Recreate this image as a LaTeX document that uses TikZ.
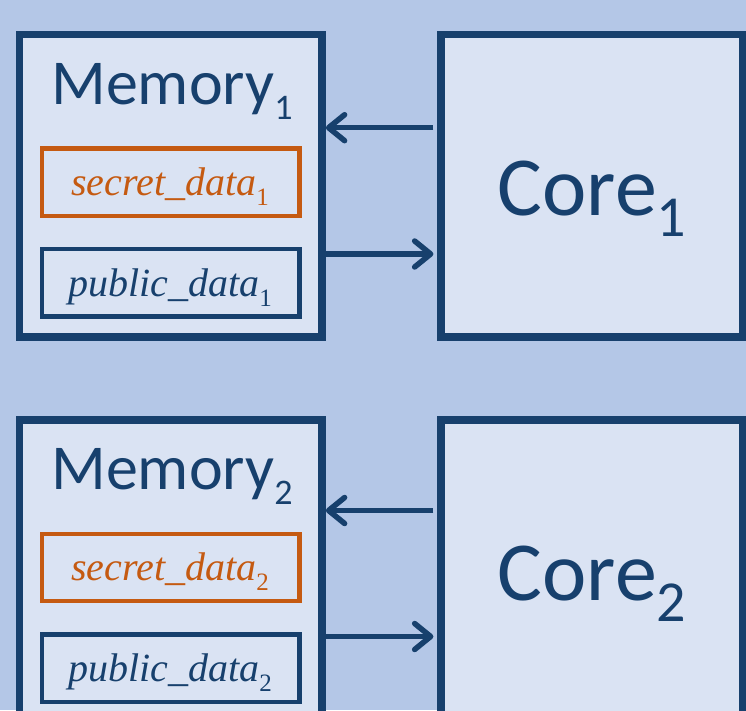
\documentclass[tikz,border=0pt]{standalone}
\usepackage{fontspec}
\setmainfont{Liberation Serif}
\newfontfamily\labelfont{Carlito}
\usetikzlibrary{arrows.meta}
\definecolor{bgblue}{HTML}{B4C7E7}
\definecolor{boxfill}{HTML}{DAE3F3}
\definecolor{darkblue}{HTML}{17406D}
\definecolor{secretorange}{HTML}{C55A11}
\begin{document}
\begin{tikzpicture}[x=1pt,y=-1pt,
  unit/.style={rectangle, draw=darkblue, fill=boxfill, line width=7.7pt,
    minimum width=302.5pt, minimum height=302.2pt, inner sep=0pt},
  slot/.style={rectangle, draw=#1, fill=boxfill, line width=4.4pt,
    minimum width=257.2pt, minimum height=67.4pt, inner sep=0pt},
  label/.style={anchor=base, inner sep=0pt, text=darkblue},
  arr/.style={draw=darkblue, line width=5.5pt,
    -{Straight Barb[length=16pt,width=26pt,round]}}]
\useasboundingbox (0,0) rectangle (746,710);
\fill[bgblue] (0,0) rectangle (746,710);

\foreach \i/\off/\ta/\tb in {1/0/127.7/254, 2/385.5/510.5/636.5} {
  % memory unit with its two data slots
  \node[unit] (mem\i) at (170.75,185.6+\off) {};
  \node[slot=secretorange] (sec\i) at (170.8,182.05+\off) {};
  \node[slot=darkblue] (pub\i) at (170.8,282.85+\off) {};
  \node[label] (memlabel\i) at (172,104+\off)
    {\labelfont\fontsize{64}{76}\selectfont Memory\raisebox{-15pt}{\fontsize{36}{42}\selectfont \i}};
  \node[label, text=secretorange] (seclabel\i) at (170,195+\off)
    {\fontsize{40}{48}\selectfont\itshape secret\_data\raisebox{-10pt}{\upshape\fontsize{25}{30}\selectfont \i}};
  \node[label] (publabel\i) at (170,296+\off)
    {\fontsize{40}{48}\selectfont\itshape public\_data\raisebox{-10pt}{\upshape\fontsize{25}{30}\selectfont \i}};
  % core
  \node[unit] (core\i) at (592,185.6+\off) {};
  \node[label] (corelabel\i) at (592,215+\off)
    {\labelfont\fontsize{84}{100}\selectfont Core\raisebox{-21pt}{\fontsize{58}{68}\selectfont \i}};
  % connections between memory and core
  \coordinate (cin\i) at ([xshift=-3.5pt]core\i.west);
  \draw[arr] (cin\i |- 0,\ta) -- (mem\i.east |- 0,\ta);
  \draw[arr] (mem\i.east |- 0,\tb) -- (cin\i |- 0,\tb);
}
\end{tikzpicture}
\end{document}
